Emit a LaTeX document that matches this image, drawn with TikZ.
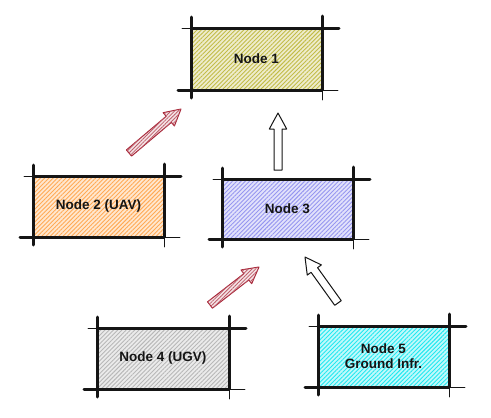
\documentclass[tikz,border=0pt]{standalone}
\usepackage{fontspec}
\setmainfont{Liberation Sans}
\usetikzlibrary{calc,patterns.meta}
\definecolor{ink}{HTML}{151515}
\definecolor{cA}{HTML}{C2BC48}
\definecolor{cB}{HTML}{FFAA55}
\definecolor{cC}{HTML}{9696F0}
\definecolor{cD}{HTML}{B8B8B8}
\definecolor{cE}{HTML}{22E8F0}
\definecolor{arrowred}{HTML}{A8283A}
\tikzset{
  lbl/.style={font=\fontsize{13.5}{15}\selectfont\bfseries, align=center, text=ink},
  thickedge/.style={draw=ink, line width=3pt, line cap=round},
  thinedge/.style={draw=ink, line width=0.8pt, line cap=round},
  redarrow/.style={draw=arrowred, line width=1pt, line join=round, fill=arrowred!12,
    postaction={pattern={Lines[angle=45,distance=2.6pt,line width=0.8pt]}, pattern color=arrowred!75}},
  whitearrow/.style={draw=ink, line width=1pt, fill=white, line join=round},
}
% #1 name, #2 x1, #3 y1, #4 x2, #5 y2, #6 colour, #7 text
\newcommand{\sketchnode}[7]{%
  \fill[#6!28] (#2,#3) rectangle (#4,#5);
  \fill[pattern={Lines[angle=45,distance=3pt,line width=0.9pt]}, pattern color=#6] (#2,#3) rectangle (#4,#5);
  \node[lbl] (#1) at ($(#2,#3)!0.5!(#4,#5)$) {#7};
  \draw[thinedge] (#2-9,#3) -- (#2,#3);
  \draw[thickedge] (#2,#3) -- (#4+17,#3);
  \draw[thickedge] (#2,#3-11) -- (#2,#5+8);
  \draw[thickedge] (#4,#3-12) -- (#4,#5);
  \draw[thinedge] (#4,#5) -- (#4,#5+10);
  \draw[thickedge] (#2-13,#5) -- (#4,#5);
  \draw[thinedge] (#4,#5) -- (#4+16,#5);
}
% #1 style, #2 tail, #3 tip
\newcommand{\blockarrow}[3]{%
  \coordinate (hb) at ($(#3)!16pt!(#2)$);
  \draw[#1] ($(#2)!4pt!90:(#3)$) -- ($(hb)!4pt!90:(#3)$) -- ($(hb)!8.7pt!90:(#3)$)
    -- (#3) -- ($(hb)!8.7pt!-90:(#3)$) -- ($(hb)!4pt!-90:(#3)$) -- ($(#2)!4pt!-90:(#3)$) -- cycle;
}
\begin{document}
\begin{tikzpicture}[x=1pt,y=-1pt]
\useasboundingbox (0,0) rectangle (491,418);
\fill[white] (0,0) rectangle (491,418);

\sketchnode{n1}{191}{28}{322}{90}{cA}{Node 1}
\sketchnode{n2}{33}{176}{164}{237}{cB}{Node 2 (UAV)}
\sketchnode{n3}{222}{179}{353}{239}{cC}{Node 3}
\sketchnode{n4}{97}{328}{229}{389}{cD}{Node 4 (UGV)}
\sketchnode{n5}{318}{326}{449}{387}{cE}{Node 5\\Ground Infr.}

\coordinate (a1t) at (129,153);
\coordinate (a1h) at (181,109);
\coordinate (a2t) at (278,170);
\coordinate (a2h) at (278,113);
\coordinate (a3t) at (210,305);
\coordinate (a3h) at (259,267);
\coordinate (a4t) at (338,303);
\coordinate (a4h) at (305,257);

\blockarrow{redarrow}{a1t}{a1h}
\blockarrow{whitearrow}{a2t}{a2h}
\blockarrow{redarrow}{a3t}{a3h}
\blockarrow{whitearrow}{a4t}{a4h}
\end{tikzpicture}
\end{document}
